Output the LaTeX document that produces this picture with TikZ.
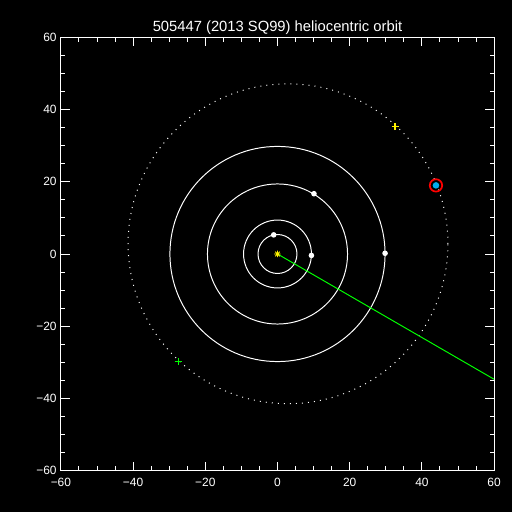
\documentclass[tikz,border=0pt]{standalone}
\usepackage{fontspec}
\setmainfont{Liberation Sans}
\begin{document}
\begin{tikzpicture}[x=0.09025cm, y=0.09025cm, font=\fontsize{8.5}{9}\selectfont,
    orbit/.style={white, line width=0.7pt},
    planet/.style={circle, fill=white, inner sep=0pt, minimum size=1.4mm},
    cross/.style={line width=1pt}]
% background and size
    \fill[black] (-76.87,-71.47) rectangle (64.96,70.36);
    \useasboundingbox (-76.87,-71.47) rectangle (64.96,70.36);
% title
    \node[white, font=\fontsize{10.5}{12}\selectfont] (title) at (0,62.7) {505447 (2013 SQ99) heliocentric orbit};
% draw frame and ticks
    \draw[white, line width=0.7pt] (-60,-60) rectangle (60,60);
    \foreach \t in {-55,-50,...,55} {
        \draw[white, line width=0.7pt] (\t,-60) -- ++(0,1.25);
        \draw[white, line width=0.7pt] (\t,60) -- ++(0,-1.25);
        \draw[white, line width=0.7pt] (-60,\t) -- ++(1.25,0);
        \draw[white, line width=0.7pt] (60,\t) -- ++(-1.25,0);
    }
    \foreach \t/\s in {-60/−60,-40/−40,-20/−20,0/0,20/20,40/40,60/60} {
        \draw[white, line width=0.7pt] (\t,-60) -- ++(0,2.5);
        \draw[white, line width=0.7pt] (\t,60) -- ++(0,-2.5);
        \draw[white, line width=0.7pt] (-60,\t) -- ++(2.5,0);
        \draw[white, line width=0.7pt] (60,\t) -- ++(-2.5,0);
        \node[white, inner sep=0pt] at (\t,-63.4) {\s};
        \node[white, inner sep=0pt, anchor=east] at (-61.1,\t) {\s};
    }
% planet orbits
    \draw[orbit] (0,0) circle (5.4);
    \draw[orbit] (0,0) circle (9.4);
    \draw[orbit] (0,0) circle (19.4);
    \draw[orbit] (0,0) circle (29.8);
    % object orbit
    \draw[orbit, dash pattern=on 0.7pt off 3.6pt] (2.91,2.83) circle (44.3);
% direction line
    \coordinate (sun) at (0,0);
    \coordinate (edge) at (60,-34.7);
    \draw[green, line width=0.7pt] (sun) -- (edge);
% sun
    \draw[yellow, line width=0.7pt] (-0.9,0) -- (0.9,0) (0,-0.9) -- (0,0.9)
        (-0.65,-0.65) -- (0.65,0.65) (-0.65,0.65) -- (0.65,-0.65);
% planets
    \node[planet] (jupiter) at (-1.05,5.3) {};
    \node[planet] (saturn) at (9.4,-0.4) {};
    \node[planet] (uranus) at (10.1,16.7) {};
    \node[planet] (neptune) at (29.8,0.2) {};
% object
    \node[circle, fill=cyan, inner sep=0pt, minimum size=1.65mm] (target) at (43.9,19.0) {};
    \node[circle, draw=red, line width=1.2pt, inner sep=0pt, minimum size=3.1mm] (ring) at (target) {};
% markers
    \draw[yellow, cross] (31.6,35.3) -- (33.6,35.3) (32.6,34.3) -- (32.6,36.3);
    \draw[green, cross] (-28.5,-29.7) -- (-26.5,-29.7) (-27.5,-30.7) -- (-27.5,-28.7);
\end{tikzpicture}
\end{document}
